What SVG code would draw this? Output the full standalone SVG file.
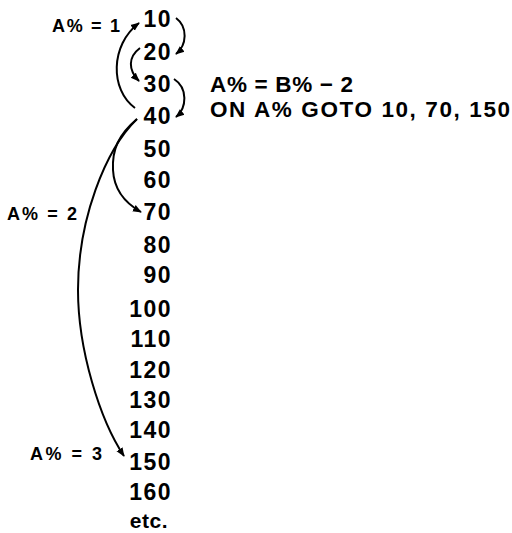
<svg xmlns="http://www.w3.org/2000/svg" width="512" height="533" viewBox="0 0 512 533">
<style>
.num{font-family:"Liberation Sans",Arial,sans-serif;font-weight:bold;font-size:23px;text-anchor:end;letter-spacing:1.5px;fill:#000}
.lbl{font-family:"Liberation Sans",Arial,sans-serif;font-weight:bold;font-size:18px;fill:#000}
.code{font-family:"Liberation Sans",Arial,sans-serif;font-weight:bold;font-size:22.5px;fill:#000}
.arc{fill:none;stroke:#000;stroke-width:2;marker-end:url(#ah)}
</style>
<defs>
<marker id="ah" viewBox="0 0 10 10" refX="9" refY="5" markerWidth="4.5" markerHeight="4.5" orient="auto" markerUnits="strokeWidth">
<path d="M0,1 L10,5 L0,9 Z" fill="#000"/>
</marker>
</defs>
<rect width="512" height="533" fill="#fff"/>
<g id="lines">
<g id="n10"><text class="num" x="172" y="27">10</text></g>
<g id="n20"><text class="num" x="172" y="60">20</text></g>
<g id="n30"><text class="num" x="172" y="92">30</text></g>
<g id="n40"><text class="num" x="172" y="124">40</text></g>
<g id="n50"><text class="num" x="172" y="157">50</text></g>
<g id="n60"><text class="num" x="172" y="188">60</text></g>
<g id="n70"><text class="num" x="172" y="220">70</text></g>
<g id="n80"><text class="num" x="172" y="253">80</text></g>
<g id="n90"><text class="num" x="172" y="283">90</text></g>
<g id="n100"><text class="num" x="172" y="317">100</text></g>
<g id="n110"><text class="num" x="172" y="347">110</text></g>
<g id="n120"><text class="num" x="172" y="378">120</text></g>
<g id="n130"><text class="num" x="172" y="408">130</text></g>
<g id="n140"><text class="num" x="172" y="438">140</text></g>
<g id="n150"><text class="num" x="172" y="470">150</text></g>
<g id="n160"><text class="num" x="172" y="500">160</text></g>
<g id="netc"><text class="num" x="168" y="528" style="font-size:21px;letter-spacing:0.5px">etc.</text></g>
</g>
<g id="labels">
<text class="lbl" x="52" y="32" textLength="68" lengthAdjust="spacing">A% = 1</text>
<text class="lbl" x="7" y="220" textLength="70" lengthAdjust="spacing">A% = 2</text>
<text class="lbl" x="30" y="460" textLength="72" lengthAdjust="spacing">A% = 3</text>
<text class="code" x="210" y="92" textLength="143" lengthAdjust="spacing">A% = B% − 2</text>
<text class="code" x="210" y="117" textLength="300" lengthAdjust="spacing">ON A% GOTO 10, 70, 150</text>
</g>
<g id="connectors">
<path class="arc" d="M176,18 C188,27 187,45 176,54"/>
<path class="arc" d="M135,108 C110,90 110,45 139,23"/>
<path class="arc" d="M140,48 C128,57 128,70 139,81"/>
<path class="arc" d="M174,79 C188,88 187,108 176,117"/>
<path class="arc" d="M137,119 C118,135 112,150 113,170 C114,190 125,203 141,212"/>
<path class="arc" d="M137,119 C105,150 78,220 78,290 C78,350 100,420 124,456"/>
</g>
</svg>
